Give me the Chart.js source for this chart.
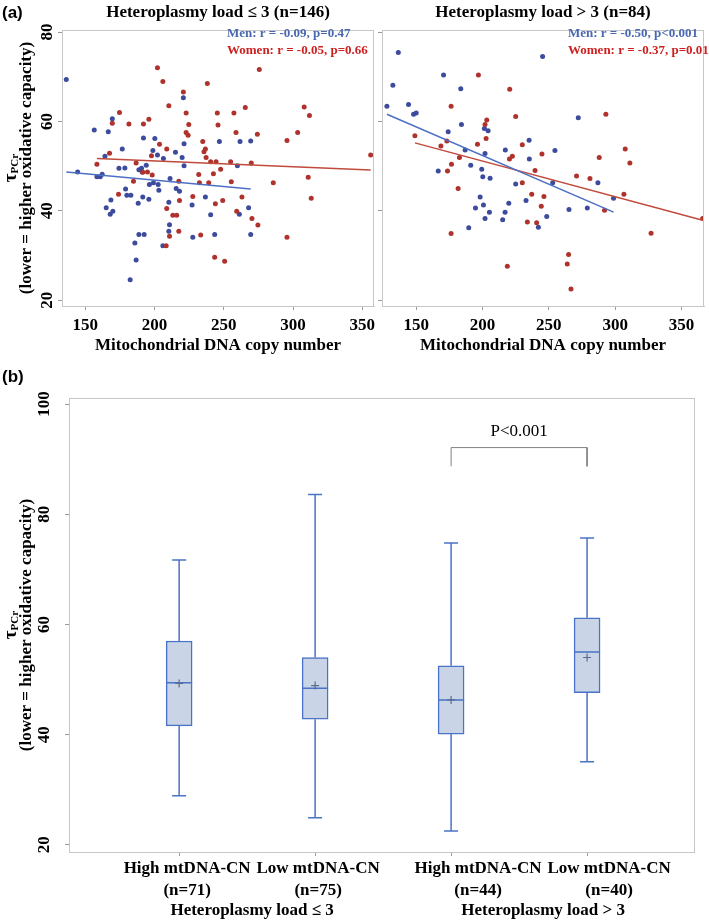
<!DOCTYPE html>
<html>
<head>
<meta charset="utf-8">
<script src="https://cdn.jsdelivr.net/npm/chart.js@4.4.1/dist/chart.umd.min.js"></script>
<style>
  body { margin: 0; background: #fff; }
  #wrap { position: relative; width: 709px; height: 920px; }
  canvas { position: absolute; left: 0; top: 0; }
</style>
</head>
<body>
<div id="wrap">
  <canvas id="lowLoad" width="709" height="920"></canvas>
  <canvas id="highLoad" width="709" height="920"></canvas>
  <canvas id="boxes" width="709" height="920"></canvas>
</div>
<script>
// ---- data ----
// (a) heteroplasmy load <= 3
const lowMenCN = [136.3,144.5,156.5,158.4,160.8,162.2,164.2,166.6,169.5,165.1,168.5,168.0,169.9,176.7,174.3,178.6,179.1,180.0,182.9,188.7,190.6,192.0,188.2,191.5,191.1,194.0,196.3,195.9,199.2,198.8,200.2,202.1,203.1,202.6,206.4,210.3,211.2,210.8,210.3,206.0,215.6,215.1,218.0,219.9,220.8,221.3,221.3,227.1,227.6,236.7,240.5,243.4,246.8,259.8,261.2,261.7,267.9,269.4,269.4,188.7,192.5,185.8,186.7,182.4];
const lowMenTau = [69.4,48.7,58.1,47.6,47.6,48.2,52.2,57.7,60.6,40.7,42.4,39.2,39.9,53.8,49.5,49.6,44.9,43.5,43.5,49.2,49.5,56.3,41.7,43.1,48.7,50.2,45.9,42.6,46.3,53.5,56.2,52.5,44.6,45.9,51.7,41.9,47.2,36.9,35.4,32.2,45.0,53.1,44.4,51.9,65.3,50.1,55.0,41.3,34.1,43.1,39.1,34.7,55.5,50.1,39.2,55.5,40.7,34.7,55.6,34.7,34.7,32.8,29.0,24.6];
const lowWomenCN = [158.4,167.5,169.5,174.7,181.5,184.8,186.7,174.0,191.5,192.0,195.9,197.8,198.3,194.9,202.1,203.6,206.0,208.8,208.8,210.3,210.8,208.4,213.2,216.0,217.5,217.5,218.0,220.8,222.8,222.8,224.2,224.7,227.6,231.9,232.4,233.3,234.8,235.7,236.7,237.2,238.1,239.1,240.5,242.5,243.4,244.4,243.9,245.3,245.8,247.7,249.2,250.6,254.9,255.4,257.3,258.8,259.3,263.1,265.5,269.8,270.3,274.2,274.6,275.6,285.7,295.6,295.6,303.3,308.0,310.9,311.8,313.1,356.0];
const lowWomenTau = [50.4,52.9,59.6,62.0,59.4,46.6,50.7,43.7,48.6,59.4,60.5,52.3,48.0,48.7,72.0,54.9,68.9,53.8,40.5,63.5,34.3,32.2,39.0,39.0,46.6,35.4,42.3,66.6,61.9,57.5,56.9,59.3,43.2,48.1,46.3,34.6,55.5,53.2,53.8,51.9,68.5,46.3,51.0,48.3,29.6,51.0,41.6,61.9,59.2,49.3,42.3,28.7,51.0,46.5,61.9,57.5,39.9,43.1,63.1,50.7,38.3,57.1,36.8,71.6,46.3,55.7,34.1,57.5,63.2,47.5,61.3,42.8,52.5];
const lowMenFitCN = [136.3, 269.4], lowMenFitTau = [48.7, 44.9];
const lowWomenFitCN = [158.4, 356.0], lowWomenFitTau = [51.7, 49.1];

// (a) heteroplasmy load > 3
const highMenCN = [127.9,132.4,136.5,144.2,148.0,150.0,170.6,183.6,184.1,174.1,166.6,186.9,191.1,199.4,200.2,205.7,201.4,204.2,201.9,198.2,200.7,194.7,205.2,201.9,189.6,215.2,217.0,219.8,217.2,225.0,232.8,235.1,235.3,242.1,248.4,245.3,252.9,254.6,265.2,272.2,279.0,287.0,298.8];
const highMenTau = [63.4,68.1,75.4,63.8,61.6,61.9,70.4,67.3,59.3,57.7,48.9,53.6,50.2,49.3,47.6,47.3,58.4,57.9,52.8,43.1,41.3,40.6,39.7,38.3,36.2,38.0,39.7,41.7,53.6,46.0,42.3,55.8,51.6,36.3,38.7,74.5,46.3,53.5,40.3,60.8,40.6,46.3,42.8];
const highWomenCN = [149.0,168.6,173.1,173.6,176.3,176.6,181.6,182.6,176.3,196.2,196.9,201.9,203.2,202.7,218.7,220.5,220.3,222.5,225.0,230.0,230.0,237.1,239.6,240.8,244.3,244.8,246.3,233.8,264.9,263.9,266.7,270.9,281.0,288.0,292.0,293.0,306.6,307.6,311.1,327.1,366.0];
const highWomenTau = [56.8,54.5,55.6,48.9,63.4,50.4,45.0,51.9,34.9,54.9,70.4,59.3,60.3,56.2,27.6,67.2,51.6,52.2,61.1,46.3,54.8,43.7,49.0,37.3,41.0,52.7,43.2,37.5,30.2,28.1,22.5,47.8,47.2,51.9,40.1,61.6,43.7,53.8,50.7,35.0,38.3];
const highMenFitCN = [127.9, 298.8], highMenFitTau = [61.6, 39.7];
const highWomenFitCN = [149.0, 366.0], highWomenFitTau = [55.2, 37.9];

const cnTicks = [150, 200, 250, 300, 350];
const tauTicks = [20, 40, 60, 80];

// (b) box plot summaries
const groupNames = ['High mtDNA-CN', 'Low mtDNA-CN', 'High mtDNA-CN', 'Low mtDNA-CN'];
const groupN = ['(n=71)', '(n=75)', '(n=44)', '(n=40)'];
const loadGroups = ['Heteroplasmy load \u2264 3', 'Heteroplasmy load > 3'];
const boxMin = [28.9, 24.9, 22.5, 35.1];
const boxQ1 = [41.6, 42.8, 40.1, 47.6];
const boxMedian = [49.4, 48.4, 46.3, 55.0];
const boxMean = [49.3, 48.9, 46.3, 54.0];
const boxQ3 = [57.0, 54.0, 52.5, 61.2];
const boxMax = [71.7, 83.6, 74.8, 75.7];
const boxTicks = [20, 40, 60, 80, 100];
const bracketX = [3, 3, 4, 4], bracketY = [88.7, 92.1, 92.1, 88.7];
const pText = 'P<0.001';

// ---- drawing ----
const SERIF = '"Liberation Serif", "Times New Roman", serif';
const BLUE_DOT = '#3c4b9b', RED_DOT = '#af322d';
const BOX_BLUE = '#4a72c6';

function pts(xs, ys) { return xs.map((v, i) => ({ x: v, y: ys[i] })); }
function fixedTicks(vals) { return s => { s.ticks = vals.map(v => ({ value: v })); }; }

function rotText(ctx, text, x, y) {
  ctx.save(); ctx.translate(x, y); ctx.rotate(-Math.PI / 2);
  ctx.fillText(text, 0, 0); ctx.restore();
}

// frame, rotated y labels, axis title, panel titles and notes
const deco = {
  id: 'deco',
  afterDraw(chart, args, o) {
    const { ctx, chartArea: a, scales: { x, y } } = chart;
    ctx.save();
    ctx.strokeStyle = '#c6c6c6'; ctx.lineWidth = 1;
    ctx.strokeRect(Math.round(a.left) + 0.5, Math.round(a.top) + 0.5, Math.round(a.right - a.left) - 1, Math.round(a.bottom - a.top));
    ctx.fillStyle = '#000'; ctx.textBaseline = 'middle';
    if (o.yLabelX) {
      ctx.font = 'bold 17px ' + SERIF; ctx.textAlign = 'center';
      y.ticks.forEach(t => rotText(ctx, String(t.value), o.yLabelX, y.getPixelForValue(t.value)));
      const cy = (a.top + a.bottom) / 2;
      rotText(ctx, '(lower = higher oxidative capacity)', 27, cy);
      // tau with subscript
      ctx.save(); ctx.translate(11, cy); ctx.rotate(-Math.PI / 2);
      ctx.font = 'bold 19px ' + SERIF; const w1 = ctx.measureText('\u03c4').width;
      ctx.font = 'bold 11px ' + SERIF; const w2 = ctx.measureText('PCr').width;
      ctx.textAlign = 'left';
      ctx.font = 'bold 19px ' + SERIF; ctx.fillText('\u03c4', -(w1 + w2) / 2, 0);
      ctx.font = 'bold 11px ' + SERIF; ctx.fillText('PCr', -(w1 + w2) / 2 + w1, 4);
      ctx.restore();
    }
    if (o.title) {
      ctx.font = 'bold 17px ' + SERIF; ctx.textAlign = 'center';
      ctx.fillText(o.title, (a.left + a.right) / 2, 13);
    }
    if (o.letter) {
      ctx.font = 'bold 17px "Liberation Sans", Arial, sans-serif'; ctx.textAlign = 'left';
      ctx.fillText(o.letter.text, 2, o.letter.y);
    }
    (o.notes || []).forEach(n => {
      ctx.font = 'bold 13px ' + SERIF; ctx.textAlign = 'left'; ctx.fillStyle = n.color;
      ctx.fillText(n.text, n.x, n.y);
    });
    if (o.cats) {
      ctx.fillStyle = '#000'; ctx.textAlign = 'center';
      ctx.font = 'bold 17px ' + SERIF;
      groupNames.forEach((g, i) => {
        const px = x.getPixelForValue(i + 1) + o.cats.nudge[i];
        ctx.fillText(g, px, 869);
        ctx.fillText(groupN[i], px, 891);
      });
      loadGroups.forEach((g, j) => {
        const px = (x.getPixelForValue(2 * j + 1) + x.getPixelForValue(2 * j + 2)) / 2 + o.cats.groupNudge[j];
        ctx.fillText(g, px, 911);
      });
      ctx.font = '17px ' + SERIF;
      ctx.fillText(pText, x.getPixelForValue(3.5), y.getPixelForValue(95));
    }
    ctx.restore();
  }
};

function scatterPanel(id, p) {
  new Chart(document.getElementById(id), {
    type: 'scatter',
    data: {
      datasets: [
        { data: pts(p.menFitCN, p.menFitTau), showLine: true, borderColor: '#4d6fc4', borderWidth: 1.5, pointRadius: 0 },
        { data: pts(p.womenFitCN, p.womenFitTau), showLine: true, borderColor: '#c04a3c', borderWidth: 1.5, pointRadius: 0 },
        { data: pts(p.womenCN, p.womenTau), pointRadius: 2.5, pointBorderWidth: 0, pointBackgroundColor: RED_DOT },
        { data: pts(p.menCN, p.menTau), pointRadius: 2.5, pointBorderWidth: 0, pointBackgroundColor: BLUE_DOT }
      ]
    },
    options: {
      responsive: false,
      animation: false,
      layout: { padding: { left: p.left - 20, top: 30, right: 709 - p.right, bottom: 920 - 306 - 55 } },
      plugins: {
        legend: { display: false },
        tooltip: { enabled: false },
        deco: { title: p.title, letter: p.letter, yLabelX: p.yLabelX, notes: p.notes }
      },
      scales: {
        x: {
          type: 'linear', min: p.xMin, max: p.xMax,
          afterBuildTicks: fixedTicks(cnTicks),
          afterFit: s => { s.height = 55; },
          ticks: { color: '#000', padding: 5, font: { family: SERIF, size: 17, weight: 'bold' } },
          grid: { drawOnChartArea: false, tickLength: 4, color: '#9a9a9a' },
          border: { color: '#c6c6c6' },
          title: { display: true, text: 'Mitochondrial DNA copy number', color: '#000',
                   padding: { top: 0, bottom: 5 }, font: { family: SERIF, size: 17, weight: 'bold' } }
        },
        y: {
          min: 18.7, max: 80.45,
          afterBuildTicks: fixedTicks(tauTicks),
          afterFit: s => { s.width = 20; },
          ticks: { display: false },
          grid: { drawOnChartArea: false, tickLength: 4, color: '#9a9a9a' },
          border: { color: '#c6c6c6' }
        }
      }
    },
    plugins: [deco]
  });
}

scatterPanel('lowLoad', {
  menCN: lowMenCN, menTau: lowMenTau, womenCN: lowWomenCN, womenTau: lowWomenTau,
  menFitCN: lowMenFitCN, menFitTau: lowMenFitTau, womenFitCN: lowWomenFitCN, womenFitTau: lowWomenFitTau,
  left: 62, right: 374, xMin: 133.2, xMax: 358.4, yLabelX: 48,
  title: 'Heteroplasmy load \u2264 3 (n=146)', letter: { text: '(a)', y: 13 },
  notes: [
    { text: 'Men: r = -0.09, p=0.47', color: '#4a68b0', x: 227, y: 34 },
    { text: 'Women: r = -0.05, p=0.66', color: '#cc1f1f', x: 227, y: 51 }
  ]
});

scatterPanel('highLoad', {
  menCN: highMenCN, menTau: highMenTau, womenCN: highWomenCN, womenTau: highWomenTau,
  menFitCN: highMenFitCN, menFitTau: highMenFitTau, womenFitCN: highWomenFitCN, womenFitTau: highWomenFitTau,
  left: 382, right: 704, xMin: 124.2, xMax: 367,
  title: 'Heteroplasmy load > 3 (n=84)',
  notes: [
    { text: 'Men: r = -0.50, p<0.001', color: '#4a68b0', x: 568, y: 34 },
    { text: 'Women: r = -0.37, p=0.01', color: '#cc1f1f', x: 568, y: 51 }
  ]
});

// box plot
const cats = groupNames.map((g, i) => i + 1);
const whiskers = [], caps = [];
cats.forEach((c, i) => {
  whiskers.push({ x: c, y: boxQ3[i] }, { x: c, y: boxMax[i] }, { x: c, y: null },
                { x: c, y: boxMin[i] }, { x: c, y: boxQ1[i] }, { x: c, y: null });
  caps.push({ x: c, y: boxMax[i] }, { x: c, y: boxMin[i] });
});

new Chart(document.getElementById('boxes'), {
  type: 'bar',
  data: {
    datasets: [
      { type: 'line', data: pts(bracketX, bracketY), borderColor: '#808080', borderWidth: 1, pointRadius: 0 },
      { type: 'scatter', data: pts(cats, boxMean), pointStyle: 'cross', pointRadius: 4,
        pointBorderColor: '#5b6b8f', pointBorderWidth: 1.2 },
      { type: 'scatter', data: pts(cats, boxMedian), pointStyle: 'line', pointRadius: 13,
        pointBorderColor: BOX_BLUE, pointBorderWidth: 1.5 },
      { type: 'scatter', data: caps, pointStyle: 'line', pointRadius: 7,
        pointBorderColor: BOX_BLUE, pointBorderWidth: 1.5 },
      { type: 'line', data: whiskers, borderColor: BOX_BLUE, borderWidth: 1.5, pointRadius: 0, spanGaps: false },
      { type: 'bar', data: cats.map((c, i) => ({ x: c, y: [boxQ1[i], boxQ3[i]] })),
        backgroundColor: '#c9d4e7', borderColor: BOX_BLUE, borderWidth: 1.5, borderSkipped: false, barThickness: 26 }
    ]
  },
  options: {
    responsive: false,
    animation: false,
    layout: { padding: { left: 49, top: 398, right: 2, bottom: 48 } },
    plugins: {
      legend: { display: false },
      tooltip: { enabled: false },
      deco: { letter: { text: '(b)', y: 377 }, yLabelX: 45, cats: { nudge: [8, 3, 27, 22], groupNudge: [5, 24] } }
    },
    scales: {
      x: {
        type: 'linear', min: 0.19, max: 4.79, offset: false,
        afterBuildTicks: fixedTicks(cats),
        afterFit: s => { s.height = 20; },
        ticks: { display: false },
        grid: { drawOnChartArea: false, tickLength: 4, color: '#9a9a9a', offset: false },
        border: { color: '#c6c6c6' }
      },
      y: {
        min: 18.7, max: 101.1,
        afterBuildTicks: fixedTicks(boxTicks),
        afterFit: s => { s.width = 20; },
        ticks: { display: false },
        grid: { drawOnChartArea: false, tickLength: 4, color: '#9a9a9a' },
        border: { color: '#c6c6c6' }
      }
    }
  },
  plugins: [deco]
});
</script>
</body>
</html>
